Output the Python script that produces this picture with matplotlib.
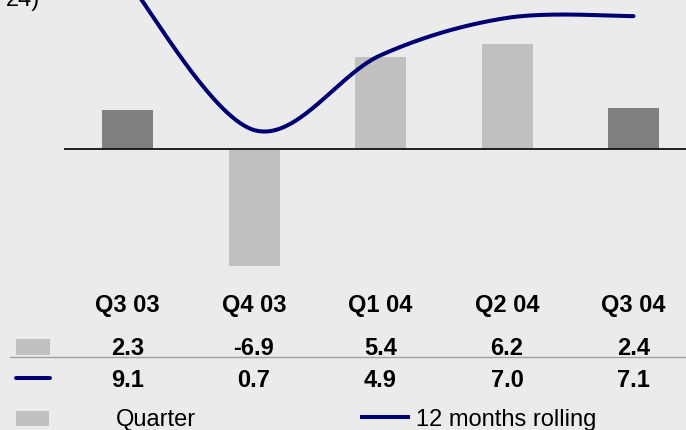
import numpy as np
import matplotlib
matplotlib.use('Agg')
import matplotlib.pyplot as plt
from matplotlib import transforms
from matplotlib.patches import Rectangle
from matplotlib.lines import Line2D

# ---- data ----
categories = ['Q3 03', 'Q4 03', 'Q1 04', 'Q2 04', 'Q3 04']
quarter = [2.3, -6.9, 5.4, 6.2, 2.4]
rolling = [9.1, 0.7, 4.9, 7.0, 7.1]
quarter_labels = ['2.3', '-6.9', '5.4', '6.2', '2.4']
rolling_labels = ['9.1', '0.7', '4.9', '7.0', '7.1']
legend_labels = ['Quarter', '12 months rolling']

# ---- style ----
W, H = 686, 431
BG = '#EBEBEB'
DARK = '#808080'
LIGHT = '#C0C0C0'
NAVY = '#000070'
bar_colors = [DARK, LIGHT, LIGHT, LIGHT, DARK]
plt.rcParams['font.family'] = ['Liberation Sans', 'DejaVu Sans']
FS = 17

fig = plt.figure(figsize=(W / 100, H / 100), dpi=100, facecolor=BG)


def px_rect(x0, y0, x1, y1):
    return [x0 / W, 1 - y1 / H, (x1 - x0) / W, (y1 - y0) / H]


step = 126.5
c0 = 127.5
ax = fig.add_axes(px_rect(64, 0, 686, 280))
ax.set_facecolor('none')
ax.axis('off')
x = np.arange(len(categories))
ax.set_xlim((64 - c0) / step, (686 - c0) / step)
ax.set_ylim(-130 / 17, 150 / 17)
ax.bar(x, quarter, width=51 / step, color=bar_colors, zorder=2)
ax.axhline(0, color='#111111', lw=1.3, zorder=3)

# secondary axis for the rolling line
ax2 = ax.twinx()
ax2.axis('off')
A, B = 6.5, 17.8
ax2.set_ylim((150 - A - 280) / B, (150 - A) / B)


def catmull_rom(xs, ys, n=40):
    xs = np.asarray(xs, float)
    ys = np.asarray(ys, float)
    P = np.column_stack([xs, ys])
    P = np.vstack([P[0], P, P[-1]])
    out = []
    for i in range(1, len(P) - 2):
        p0, p1, p2, p3 = P[i - 1], P[i], P[i + 1], P[i + 2]
        b1 = p1 + (p2 - p0) / 6
        b2 = p2 - (p3 - p1) / 6
        t = np.linspace(0, 1, n)[:, None]
        seg = ((1 - t) ** 3) * p1 + 3 * ((1 - t) ** 2) * t * b1 + 3 * (1 - t) * t ** 2 * b2 + t ** 3 * p2
        out.append(seg if i == 1 else seg[1:])
    return np.vstack(out)


curve = catmull_rom(x, rolling)
ax2.plot(curve[:, 0], curve[:, 1], color=NAVY, lw=2.9, solid_capstyle='round', zorder=4)

# ---- overlay for table ----
ov = fig.add_axes([0, 0, 1, 1])
ov.set_xlim(0, W)
ov.set_ylim(H, 0)
ov.axis('off')
ov.patch.set_alpha(0)
trans = transforms.blended_transform_factory(ax.transData, ov.transData)

for i, c in enumerate(categories):
    ov.text(i, 312, c, transform=trans, ha='center', va='baseline',
            fontsize=FS, fontweight='bold')
for i, v in enumerate(quarter_labels):
    ov.text(i, 355, v, transform=trans, ha='center', va='baseline',
            fontsize=FS, fontweight='bold')
for i, v in enumerate(rolling_labels):
    ov.text(i, 387, v, transform=trans, ha='center', va='baseline',
            fontsize=FS, fontweight='bold')

ov.add_patch(Rectangle((16, 340), 34, 16, color=LIGHT, lw=0))
ov.add_line(Line2D([10, 686], [358, 358], color='#A0A0A0', lw=1.0))
ov.add_line(Line2D([16, 50], [379, 379], color=NAVY, lw=2.9, solid_capstyle='round'))

# legend
ov.add_patch(Rectangle((16, 412), 33, 15, color=LIGHT, lw=0))
ov.text(116, 426, legend_labels[0], ha='left', va='baseline', fontsize=FS)
ov.add_line(Line2D([360, 410], [418, 418], color=NAVY, lw=2.9, solid_capstyle='butt'))
ov.text(416, 426, legend_labels[1], ha='left', va='baseline', fontsize=FS)

# cut-off title fragment at the top-left
ov.text(40, 6, '24)', ha='right', va='baseline', fontsize=FS)

fig.savefig('out.png', dpi=100, facecolor=BG)
